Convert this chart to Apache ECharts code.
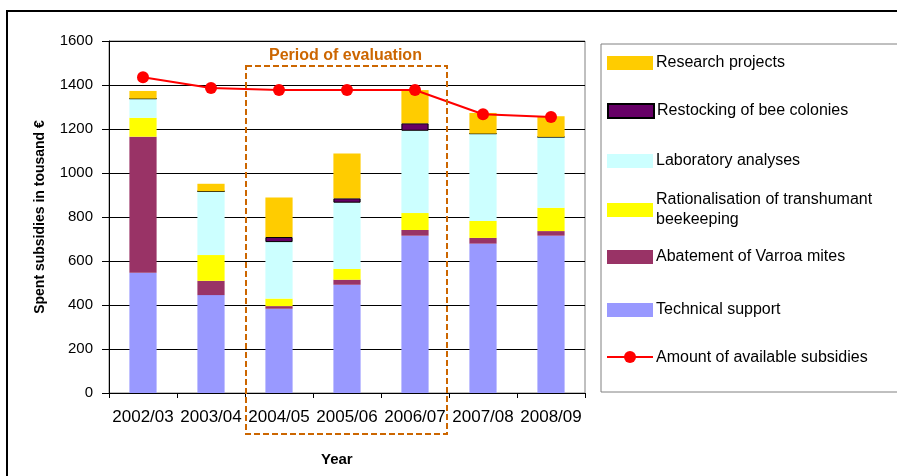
<!DOCTYPE html>
<html>
<head>
<meta charset="utf-8">
<script src="https://cdn.jsdelivr.net/npm/echarts@6/dist/echarts.min.js"></script>
<style>
    html, body { margin: 0; padding: 0; background: #fff; }
    #chart { width: 897px; height: 476px; }
</style>
</head>
<body>
<div id="chart"></div>
<script>
// years on the x axis
const years = ['2002/03', '2003/04', '2004/05', '2005/06', '2006/07', '2007/08', '2008/09'];
const yTicks = [0, 200, 400, 600, 800, 1000, 1200, 1400, 1600];

// spent subsidies (thousand €), per measure
const technicalSupport = [547, 445, 383, 492, 715, 679, 715];
const varroaMites = [618, 65, 12, 23, 26, 26, 21];
const transhumant = [86, 117, 34, 49, 77, 77, 106];
const labAnalyses = [87, 290, 257, 301, 374, 397, 322];
const restocking = [0, 0, 23, 20, 34, 0, 0];
const researchProjects = [35, 34, 180, 204, 151, 94, 94];
// available subsidies line
const availableSubsidies = [1435, 1386, 1377, 1377, 1377, 1267, 1255];

const font = 'Liberation Sans, Arial, sans-serif';

function barSeries(name, data, color, border) {
    return {
        name: name,
        type: 'bar',
        stack: 'spent',
        barWidth: '40%',
        data: data,
        itemStyle: {
            color: color,
            borderColor: border ? '#000' : color,
            borderWidth: border ? 1 : 0
        },
        emphasis: { disabled: true }
    };
}

// one legend per entry, so the spacing can follow the original
function legendAt(name, top, icon) {
    return {
        data: [{ name: name, icon: icon || 'rect' }],
        left: 607,
        top: top,
        padding: 0,
        itemWidth: 46,
        itemHeight: 14,
        itemGap: 0,
        selectedMode: false,
        textStyle: { fontFamily: font, fontSize: 16, color: '#000', lineHeight: 20, padding: [2, 0, 0, -2] }
    };
}

const chart = echarts.init(document.getElementById('chart'));

const option = {
    animation: false,
    backgroundColor: '#fff',
    grid: {
        left: 109,
        top: 41,
        right: 312,
        bottom: 83,
        show: true,
        borderColor: '#808080',
        borderWidth: 1
    },
    legend: [
        legendAt('Research projects', 52),
        legendAt('Restocking of bee colonies', 100),
        legendAt('Laboratory analyses', 150),
        legendAt('Rationalisation of transhumant\nbeekeeping', 189),
        legendAt('Abatement of Varroa mites', 246),
        legendAt('Technical support', 299),
        legendAt('Amount of available subsidies', 347, 'none')
    ],
    xAxis: {
        type: 'category',
        data: years,
        axisLine: { lineStyle: { color: '#000', width: 1 } },
        axisTick: { show: true, length: 5, lineStyle: { color: '#000' } },
        axisLabel: { fontFamily: font, fontSize: 17, color: '#000', margin: 16, interval: 0 }
    },
    yAxis: {
        type: 'value',
        min: 0,
        max: 1600,
        interval: 200,
        name: 'Spent subsidies in tousand €',
        nameLocation: 'middle',
        nameGap: 62,
        nameTextStyle: { fontFamily: font, fontSize: 14, fontWeight: 'bold', color: '#000' },
        axisLine: { show: true, lineStyle: { color: '#000', width: 1 } },
        axisTick: { show: true, length: 7, lineStyle: { color: '#000' } },
        axisLabel: {
            fontFamily: font, fontSize: 15, color: '#000', margin: 16,
            formatter: function (v) { return yTicks.indexOf(v) >= 0 ? String(v) : ''; }
        },
        splitLine: { show: true, lineStyle: { color: '#000', width: 1 } }
    },
    series: [
        barSeries('Technical support', technicalSupport, '#9999FF'),
        barSeries('Abatement of Varroa mites', varroaMites, '#993366'),
        barSeries('Rationalisation of transhumant\nbeekeeping', transhumant, '#FFFF00'),
        barSeries('Laboratory analyses', labAnalyses, '#CCFFFF'),
        barSeries('Restocking of bee colonies', restocking, '#660066', true),
        barSeries('Research projects', researchProjects, '#FFCC00'),
        {
            name: 'Amount of available subsidies',
            type: 'line',
            data: availableSubsidies,
            symbol: 'circle',
            symbolSize: 12,
            lineStyle: { color: '#FF0000', width: 2 },
            itemStyle: { color: '#FF0000' },
            z: 5
        }
    ],
    graphic: [
        // outer frame
        {
            type: 'rect', silent: true,
            shape: { x: 7, y: 11, width: 900, height: 480 },
            style: { fill: 'none', stroke: '#000', lineWidth: 2 }
        },
        // legend box
        {
            type: 'rect', silent: true,
            shape: { x: 601, y: 44, width: 300, height: 348 },
            style: { fill: 'none', stroke: '#808080', lineWidth: 1 }
        },
        // legend sample for the line series
        {
            type: 'group', silent: true,
            children: [
                { type: 'line', shape: { x1: 607, y1: 357, x2: 653, y2: 357 }, style: { stroke: '#FF0000', lineWidth: 2 } },
                { type: 'circle', shape: { cx: 630, cy: 357, r: 6 }, style: { fill: '#FF0000' } }
            ]
        },
        // period of evaluation box
        {
            type: 'rect', silent: true, z: 10,
            shape: { x: 246, y: 66, width: 201, height: 368 },
            style: { fill: 'none', stroke: '#CC6600', lineWidth: 2, lineDash: [6, 3] }
        },
        {
            type: 'text', silent: true, z: 10,
            left: 269, top: 48,
            style: { text: 'Period of evaluation', fill: '#CC6600', font: 'bold 16px ' + font }
        },
        {
            type: 'text', silent: true,
            left: 321, top: 452,
            style: { text: 'Year', fill: '#000', font: 'bold 15px ' + font }
        }
    ]
};

chart.setOption(option);
</script>
</body>
</html>
